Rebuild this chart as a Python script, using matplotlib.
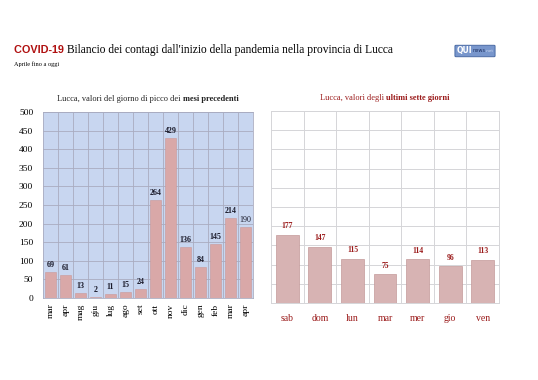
import matplotlib
matplotlib.use("Agg")
import matplotlib.pyplot as plt
from matplotlib.patches import FancyBboxPatch

# data
mesi = ['mar', 'apr', 'mag', 'giu', 'lug', 'ago', 'set', 'ott', 'nov', 'dic', 'gen', 'feb', 'mar', 'apr']
picchi = [69, 61, 13, 2, 11, 15, 24, 264, 429, 136, 84, 145, 214, 190]
giorni = ['sab', 'dom', 'lun', 'mar', 'mer', 'gio', 'ven']
ultimi = [177, 147, 115, 75, 114, 96, 113]

SERIF = 'Liberation Serif'
DARKRED = '#9b1b1b'

fig = plt.figure(figsize=(5.38, 3.8), dpi=100)
W, H = 538, 380
r = fig.canvas.get_renderer()


def box(x0, y0, x1, y1):
    return [x0 / W, 1 - y1 / H, (x1 - x0) / W, (y1 - y0) / H]


def text_row(x, y, parts, align='center'):
    # consecutive text pieces with their own style, laid out left to right
    items = []
    total = 0
    for s, kw in parts:
        t = fig.text(0, 1 - y / H, s, va='center', ha='left', **kw)
        wd = t.get_window_extent(renderer=r).width
        items.append((t, wd))
        total += wd
    cx = x - total / 2 if align == 'center' else x
    for t, wd in items:
        t.set_x(cx / W)
        cx += wd


# header
text_row(14, 50, [('COVID-19 ', dict(fontsize=7.8, fontweight='bold', fontfamily='Liberation Sans', color='#b01010')),
                  ('Bilancio dei contagi dall\'inizio della pandemia nella provincia di Lucca',
                   dict(fontsize=8.3, fontfamily=SERIF, color='black'))], align='left')
fig.text(14 / W, 1 - 64 / H, 'Aprile fino a oggi', fontsize=4.5, fontfamily=SERIF, color='black', va='center')

# logo
logo = FancyBboxPatch((456 / W, 1 - 56 / H), 38 / W, 10 / H, boxstyle='round,pad=0.002',
                      transform=fig.transFigure, facecolor='#7896cc', edgecolor='#3d5f9c', lw=0.6)
fig.patches.append(logo)
text_row(475, 51, [('QUI', dict(fontsize=5.5, fontweight='bold', color='white', fontfamily='DejaVu Sans')),
                   ('news', dict(fontsize=3.6, color='#1c2f60', fontfamily='DejaVu Sans')),
                   ('.net', dict(fontsize=3, color='#d0dcf2', fontfamily='DejaVu Sans'))])

# left chart
ax1 = fig.add_axes(box(43, 112, 253, 298))
x1 = list(range(len(mesi)))
ax1.set_facecolor('#c8d6f0')
ax1.bar(x1, picchi, width=0.72, color='#d9a8a8', edgecolor='#c99a9a', lw=0.4, zorder=3)
ax1.set_xlim(-0.5, len(mesi) - 0.5)
ax1.set_ylim(0, 500)
ax1.set_yticks(range(0, 501, 50))
ax1.set_xticks(x1)
ax1.set_xticklabels(mesi, rotation=90, fontfamily=SERIF, fontsize=6.8)
ax1.tick_params(axis='y', labelsize=6.8, length=0, pad=7)
ax1.tick_params(axis='x', length=0, pad=4)
for lab in ax1.get_yticklabels():
    lab.set_fontfamily(SERIF)
ax1.set_xticks([i + 0.5 for i in x1[:-1]], minor=True)
ax1.grid(axis='y', color='#a9acc0', lw=0.6, zorder=0)
ax1.grid(axis='x', which='minor', color='#a9acc0', lw=0.6, zorder=0)
ax1.tick_params(which='minor', length=0)
for s in ax1.spines.values():
    s.set_color('#a9acc0')
    s.set_linewidth(0.6)
for i, v in enumerate(picchi):
    ax1.text(i, v + 8, str(v), ha='center', va='bottom', fontsize=5.8, fontfamily=SERIF,
             fontweight='normal' if i == len(picchi) - 1 else 'bold', color='#1a1a2a', zorder=4)

text_row(148, 99, [('Lucca, valori del giorno di picco dei ', dict(fontsize=6, fontfamily=SERIF, color='#222222')),
                   ('mesi precedenti', dict(fontsize=6, fontfamily=SERIF, fontweight='bold', color='#222222'))])

# right chart
ax2 = fig.add_axes(box(271, 111, 499, 303))
x2 = list(range(len(giorni)))
ax2.bar(x2, ultimi, width=0.7, color='#d7b3b3', edgecolor='#c49a9a', lw=0.5, zorder=3)
ax2.set_xlim(-0.5, len(giorni) - 0.5)
ax2.set_ylim(0, 500)
ax2.set_yticks(range(0, 501, 50))
ax2.set_yticklabels([])
ax2.set_xticks(x2)
ax2.set_xticklabels(giorni, fontfamily=SERIF, fontsize=7, color=DARKRED)
ax2.tick_params(length=0, pad=8)
ax2.set_xticks([i + 0.5 for i in x2[:-1]], minor=True)
ax2.tick_params(which='minor', length=0)
ax2.grid(axis='y', color='#d5d5d8', lw=0.7, zorder=0)
ax2.grid(axis='x', which='minor', color='#d5d5d8', lw=0.7, zorder=0)
for s in ax2.spines.values():
    s.set_color('#d5d5d8')
    s.set_linewidth(0.7)
for i, v in enumerate(ultimi):
    ax2.text(i, v + 12, str(v), ha='center', va='bottom', fontsize=5.5, fontfamily=SERIF,
             fontweight='bold', color=DARKRED, zorder=4)

text_row(385, 98, [('Lucca, valori degli ', dict(fontsize=6, fontfamily=SERIF, color=DARKRED)),
                   ('ultimi sette giorni', dict(fontsize=6, fontfamily=SERIF, fontweight='bold', color=DARKRED))])

fig.savefig('out.png', dpi=100)
